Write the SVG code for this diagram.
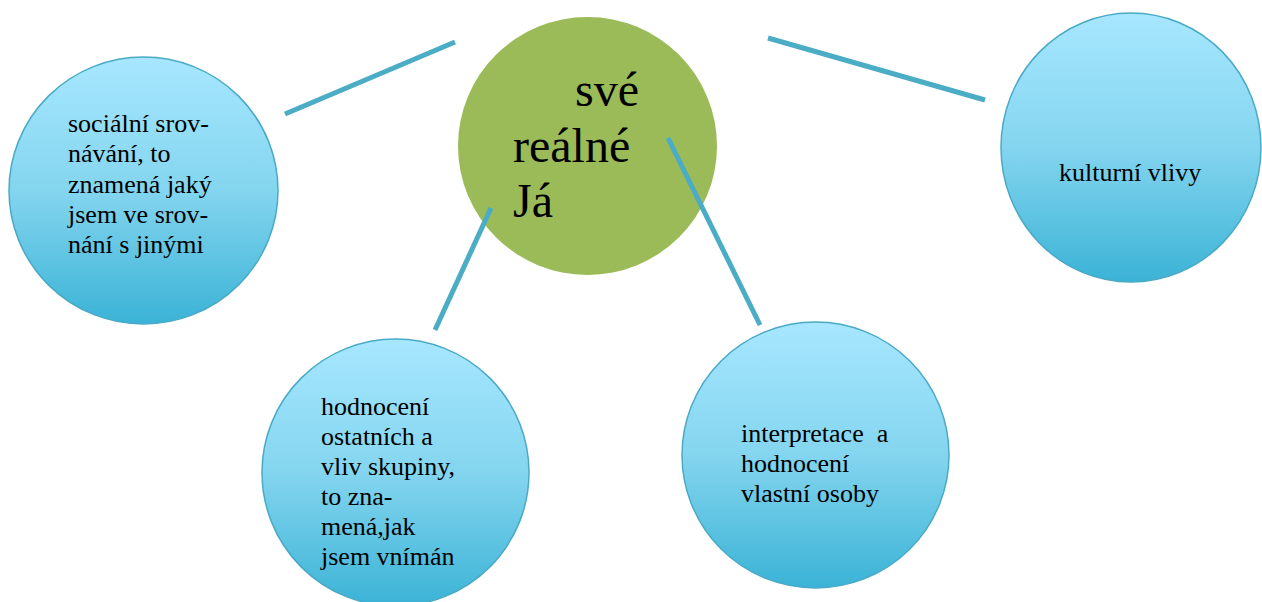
<svg xmlns="http://www.w3.org/2000/svg" width="1262" height="602" viewBox="0 0 1262 602">
<defs>
<linearGradient id="aqua" x1="0" y1="0" x2="0" y2="1">
<stop offset="0" stop-color="#a7e7ff"/>
<stop offset="0.5" stop-color="#84d5ef"/>
<stop offset="1" stop-color="#3bb3d6"/>
</linearGradient>
<style>
.bub{fill:url(#aqua);stroke:#4aaac6;stroke-width:1.5}
.ctr{fill:#9bbb59}
.t{font-family:"Liberation Serif","Times New Roman",serif;font-size:26px;fill:#000;white-space:pre}
.big{font-family:"Liberation Serif","Times New Roman",serif;font-size:48px;fill:#000}
.con line{stroke:#4bacc6;stroke-width:5}
</style>
</defs>
<rect width="1262" height="602" fill="#fff"/>
<g id="center">
<ellipse class="ctr" cx="587.5" cy="146" rx="129.5" ry="129"/>
<text class="big" x="575" y="106">své</text>
<text class="big" x="513" y="162">reálné</text>
<text class="big" x="513" y="217">Já</text>
</g>
<g id="social">
<ellipse class="bub" cx="143.5" cy="190.5" rx="134.5" ry="133.5"/>
<text class="t" x="68" y="132">sociální srov-</text>
<text class="t" x="68" y="162">návání, to</text>
<text class="t" x="68" y="193">znamená jaký</text>
<text class="t" x="68" y="223">jsem ve srov-</text>
<text class="t" x="68" y="253">nání s jinými</text>
</g>
<g id="culture">
<ellipse class="bub" cx="1131" cy="147.5" rx="130" ry="134.5"/>
<text class="t" x="1059" y="181">kulturní vlivy</text>
</g>
<g id="others">
<ellipse class="bub" cx="395.5" cy="472.5" rx="133.5" ry="133.5"/>
<text class="t" x="321" y="415">hodnocení</text>
<text class="t" x="321" y="445">ostatních a</text>
<text class="t" x="321" y="475">vliv skupiny,</text>
<text class="t" x="321" y="505">to zna-</text>
<text class="t" x="321" y="535">mená,jak</text>
<text class="t" x="321" y="565">jsem vnímán</text>
</g>
<g id="self">
<ellipse class="bub" cx="815.5" cy="455" rx="133.5" ry="133"/>
<text class="t" x="741" y="442">interpretace  a</text>
<text class="t" x="741" y="472">hodnocení</text>
<text class="t" x="741" y="502">vlastní osoby</text>
</g>
<g id="connectors" class="con">
<line x1="285" y1="114" x2="455" y2="42"/>
<line x1="768" y1="38" x2="985" y2="100"/>
<line x1="491" y1="208" x2="435" y2="330"/>
<line x1="668" y1="138" x2="760" y2="325"/>
</g>
</svg>
